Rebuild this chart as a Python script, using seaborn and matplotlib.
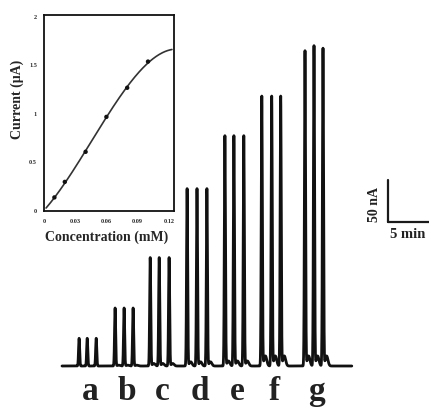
import numpy as np
import pandas as pd
import matplotlib
matplotlib.use("Agg")
import matplotlib.pyplot as plt
import seaborn as sns

sns.set_theme(style="white")
plt.rcParams["font.family"] = ["Liberation Serif", "DejaVu Serif"]

# ---- amperometric trace: three injections per standard (a-g) ----
groups = ["a", "b", "c", "d", "e", "f", "g"]
peak_times = [  # min
    [1.9, 2.8, 3.8],
    [5.9, 6.9, 7.9],
    [9.8, 10.8, 11.9],
    [13.9, 15.0, 16.1],
    [18.1, 19.1, 20.2],
    [22.2, 23.3, 24.3],
    [27.0, 28.0, 29.0],
]
peak_heights = [  # nA
    [33, 33, 33],
    [69, 69, 69],
    [129, 129, 129],
    [211, 211, 211],
    [274, 274, 274],
    [321, 321, 321],
    [375, 381, 378],
]
shoulder_heights = [0, 1, 3, 5, 6, 12, 12]  # nA, small secondary wave after each injection
trace_end = 32.2  # min

# ---- calibration inset ----
conc = [0.01, 0.02, 0.04, 0.06, 0.08, 0.10]       # mM
current = [0.14, 0.30, 0.61, 0.97, 1.27, 1.54]    # uA
fit_end = (0.123, 1.66)                           # last point of the drawn fit
x_ticks = [0, 0.03, 0.06, 0.09, 0.12]
x_tick_labels = ["0", "0.03", "0.06", "0.09", "0.12"]
y_ticks = [0, 0.5, 1, 1.5, 2]
y_tick_labels = ["0", "0.5", "1", "1.5", "2"]

# build the continuous signal from the injection list
t = np.arange(0, trace_end, 0.004)
signal = np.zeros_like(t)
for times, heights, sh in zip(peak_times, peak_heights, shoulder_heights):
    for t0, h in zip(times, heights):
        signal += h * np.exp(-0.5 * ((t - t0) / 0.06) ** 2)
        signal += sh * np.exp(-0.5 * ((t - t0 - 0.4) / 0.15) ** 2)
trace = pd.DataFrame({"time": t, "current": signal})

W, H = 429, 407
fig = plt.figure(figsize=(W / 100, H / 100), dpi=100)

# main axes span the whole figure; pixel -> data mapping
px_per_min = 9.0
nA_per_px = 50 / 42
x0_px, base_px = 62, 366
ax = fig.add_axes([0, 0, 1, 1])
ax.set_xlim(-x0_px / px_per_min, (W - x0_px) / px_per_min)
ax.set_ylim(-(H - base_px) * nA_per_px, base_px * nA_per_px)
ax.axis("off")

sns.lineplot(data=trace, x="time", y="current", ax=ax, color="#111111",
             linewidth=2.0, estimator=None, sort=False)


def px2t(px):
    return (px - x0_px) / px_per_min


def py2v(py):
    return (base_px - py) * nA_per_px


# group letters, set slightly right of each triplet
for name, times in zip(groups, peak_times):
    ax.text(np.mean(times) + 0.3, py2v(400), name,
            ha="center", va="baseline", fontsize=24, fontweight="bold",
            color="#222222")

# scale bar
sb_x, sb_y = px2t(388), py2v(222)
ax.plot([sb_x, sb_x], [sb_y, sb_y + 50], color="#1a1a1a", lw=1.6)
ax.plot([sb_x, sb_x + 5], [sb_y, sb_y], color="#1a1a1a", lw=1.6)
ax.text(px2t(375), py2v(205), "50 nA", rotation=90, ha="center", va="center",
        fontsize=10, fontweight="bold", color="#222222")
ax.text(px2t(408), py2v(235), "5 min", ha="center", va="center",
        fontsize=10.5, fontweight="bold", color="#222222")

# inset calibration plot
inset = fig.add_axes([44 / W, (H - 211) / H, 130 / W, 196 / H])
cal = pd.DataFrame({"conc": conc, "current": current})
fit = np.polyfit([0] + conc + [fit_end[0]], [0] + current + [fit_end[1]], 3)
xf = np.linspace(0.002, fit_end[0], 200)
fit_df = pd.DataFrame({"conc": xf, "current": np.polyval(fit, xf)})
sns.lineplot(data=fit_df, x="conc", y="current", ax=inset, color="#333333",
             linewidth=1.2)
sns.scatterplot(data=cal, x="conc", y="current", ax=inset, color="#111111",
                s=10, edgecolor="none", zorder=3)
inset.set_xlim(0, 0.125)
inset.set_ylim(0, 2.02)
inset.set_xticks(x_ticks)
inset.set_xticklabels(x_tick_labels, fontsize=4.5, fontweight="bold")
inset.set_yticks(y_ticks)
inset.set_yticklabels(y_tick_labels, fontsize=4.5, fontweight="bold")
inset.tick_params(direction="in", length=2, width=0.8, pad=5)
inset.tick_params(axis="x", pad=5.5)
for s in inset.spines.values():
    s.set_color("#111111")
    s.set_linewidth(1.3)
inset.set_facecolor("none")
inset.set_xlabel("Concentration (mM)", fontsize=10, fontweight="bold")
inset.set_ylabel("Current (\u03bcA)", fontsize=10, fontweight="bold")
inset.xaxis.set_label_coords(0.485, -0.135)
inset.yaxis.set_label_coords(-0.208, 0.57)
inset.xaxis.label.set_va("center")
inset.yaxis.label.set_va("center")

fig.savefig("out.png", dpi=100, facecolor="white")
